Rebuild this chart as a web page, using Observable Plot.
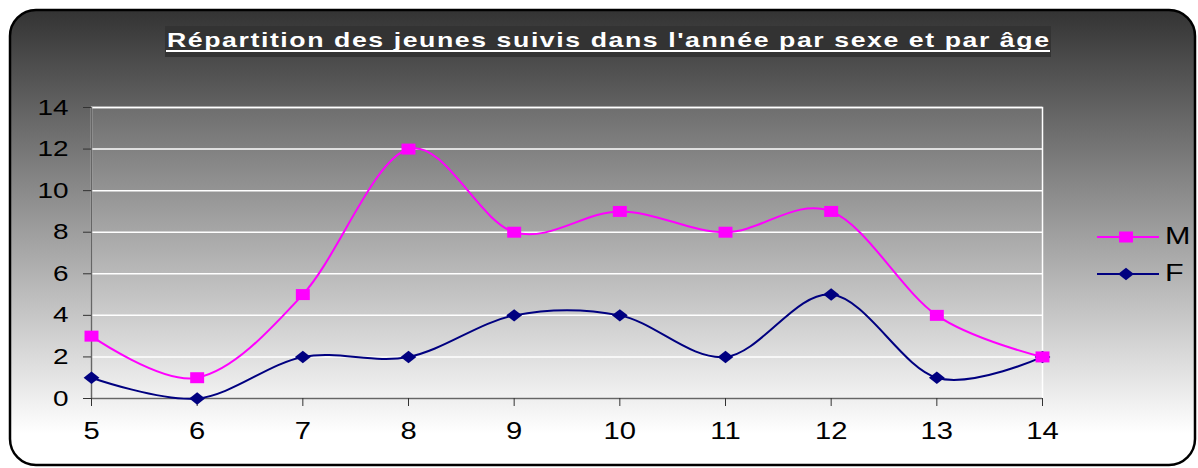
<!DOCTYPE html>
<html>
<head>
<meta charset="utf-8">
<script src="https://cdn.jsdelivr.net/npm/d3@7"></script>
<script src="https://cdn.jsdelivr.net/npm/@observablehq/plot@0.6"></script>
<style>
  html, body { margin: 0; padding: 0; background: #fff; }
  #chart { width: 1198px; height: 468px; }
</style>
</head>
<body>
<div id="chart"></div>
<script>
const titleText = "Répartition des jeunes suivis dans l'année par sexe et par âge";
const ages = [5, 6, 7, 8, 9, 10, 11, 12, 13, 14];
const maleCounts = [3, 1, 5, 12, 8, 9, 8, 9, 4, 2];
const femaleCounts = [1, 0, 2, 2, 4, 4, 2, 5, 1, 2];
const yTicks = [0, 2, 4, 6, 8, 10, 12, 14];
const seriesNames = ["M", "F"];
const seriesColors = ["#FF00FF", "#000080"];
const seriesSymbols = ["square", "diamond2"];
const seriesR = [6.2, 5.6];

const rows = [];
ages.forEach((a, i) => {
  rows.push({age: a, count: maleCounts[i], sex: "M"});
  rows.push({age: a, count: femaleCounts[i], sex: "F"});
});
const dataM = rows.filter(d => d.sex === "M");
const dataF = rows.filter(d => d.sex === "F");

const font = "'Liberation Sans', Arial, sans-serif";
const stretch = 1.27; // the reference glyphs are horizontally stretched

const plot = Plot.plot({
  width: 1198,
  height: 468,
  marginLeft: 91,
  marginRight: 156,
  marginTop: 107,
  marginBottom: 70,
  style: {fontFamily: font, color: "black", background: "white"},
  x: {domain: [5, 14]},
  y: {domain: [0, 14]},
  marks: [
    Plot.frame({fill: "url(#plotAreaGrad)", stroke: "white", strokeWidth: 1.5}),
    Plot.gridY(yTicks, {stroke: "white", strokeOpacity: 1, strokeWidth: 1.5}),
    Plot.ruleY([0], {stroke: "#666", strokeWidth: 1.5}),
    Plot.ruleX([ages[0]], {stroke: "#666", strokeWidth: 1.5}),
    Plot.axisY(yTicks, {tickSize: 8, tickPadding: 15, fontSize: 22, stroke: "#333", fill: "black", tickFormat: d => String(d), label: null}),
    Plot.axisX(ages, {tickSize: 8, tickPadding: 16, fontSize: 23, stroke: "#333", fill: "black", tickFormat: d => String(d), label: null}),
    Plot.line(dataM, {x: "age", y: "count", stroke: seriesColors[0], strokeWidth: 2, curve: "cardinal"}),
    Plot.line(dataF, {x: "age", y: "count", stroke: seriesColors[1], strokeWidth: 2, curve: "cardinal"}),
    Plot.dot(dataF, {x: "age", y: "count", symbol: seriesSymbols[1], r: seriesR[1], fill: seriesColors[1], stroke: "none"}),
    Plot.dot(dataM, {x: "age", y: "count", symbol: seriesSymbols[0], r: seriesR[0], fill: seriesColors[0], stroke: "none"})
  ]
});

const svg = d3.select(plot);

// stretch axis labels and markers horizontally, like the reference
function stretchEl(el) {
  const t = el.getAttribute("transform");
  if (t) {
    el.setAttribute("transform", t + ` scale(${stretch},1)`);
  } else {
    const x = +(el.getAttribute("x") || 0), y = +(el.getAttribute("y") || 0);
    el.setAttribute("x", 0); el.setAttribute("y", 0);
    el.setAttribute("transform", `translate(${x},${y}) scale(${stretch},1)`);
  }
}
svg.selectAll("g[aria-label='x-axis tick label'] text, g[aria-label='y-axis tick label'] text").each(function() { stretchEl(this); });
svg.selectAll("g[aria-label='dot'] path").each(function() { stretchEl(this); });

const defs = svg.insert("defs", ":first-child");
const bg = defs.append("linearGradient").attr("id", "bgGrad").attr("x1", 0).attr("y1", 0).attr("x2", 0).attr("y2", 1);
bg.append("stop").attr("offset", "0%").attr("stop-color", "#333333");
bg.append("stop").attr("offset", "93%").attr("stop-color", "#ffffff");
bg.append("stop").attr("offset", "100%").attr("stop-color", "#ffffff");
const pg = defs.append("linearGradient").attr("id", "plotAreaGrad").attr("x1", 0).attr("y1", 0).attr("x2", 0).attr("y2", 1);
pg.append("stop").attr("offset", "0%").attr("stop-color", "#6e6e6e");
pg.append("stop").attr("offset", "100%").attr("stop-color", "#f2f2f2");

// background panel
const bgGroup = svg.insert("g", "defs + *");
bgGroup.append("rect")
  .attr("x", 10).attr("y", 10).attr("width", 1185).attr("height", 455)
  .attr("rx", 26).attr("ry", 26)
  .attr("fill", "url(#bgGrad)").attr("stroke", "black").attr("stroke-width", 2.5);

// title
const tg = svg.append("g");
tg.append("rect").attr("x", 165).attr("y", 26).attr("width", 886).attr("height", 31).attr("fill", "#333");
tg.append("text")
  .attr("transform", `translate(167,47) scale(${stretch},1)`)
  .attr("textLength", 882 / stretch).attr("lengthAdjust", "spacing")
  .attr("fill", "white").attr("font-family", font).attr("font-weight", "bold").attr("font-size", 21)
  .attr("text-anchor", "start")
  .text(titleText);
tg.append("rect").attr("x", 166).attr("y", 50).attr("width", 884).attr("height", 2).attr("fill", "white");

// legend
const lg = svg.append("g");
seriesNames.forEach((name, i) => {
  const y = 237 + i * 37;
  const g = lg.append("g").attr("transform", `translate(0,${y})`);
  g.append("line").attr("x1", 1097).attr("x2", 1159).attr("y1", 0).attr("y2", 0).attr("stroke", seriesColors[i]).attr("stroke-width", 2);
  const sym = i === 0 ? d3.symbolSquare : d3.symbolDiamond2;
  const size = Math.PI * seriesR[i] ** 2;
  g.append("path").attr("transform", `translate(1126,0) scale(${stretch},1)`).attr("d", d3.symbol(sym, size)()).attr("fill", seriesColors[i]);
  g.append("text").attr("transform", `translate(1165,-2) scale(${stretch},1)`).attr("dy", "0.36em")
    .attr("text-anchor", "start")
    .attr("font-family", font).attr("font-size", 24).attr("fill", "black").text(name);
});

document.getElementById("chart").appendChild(plot);
</script>
</body>
</html>
